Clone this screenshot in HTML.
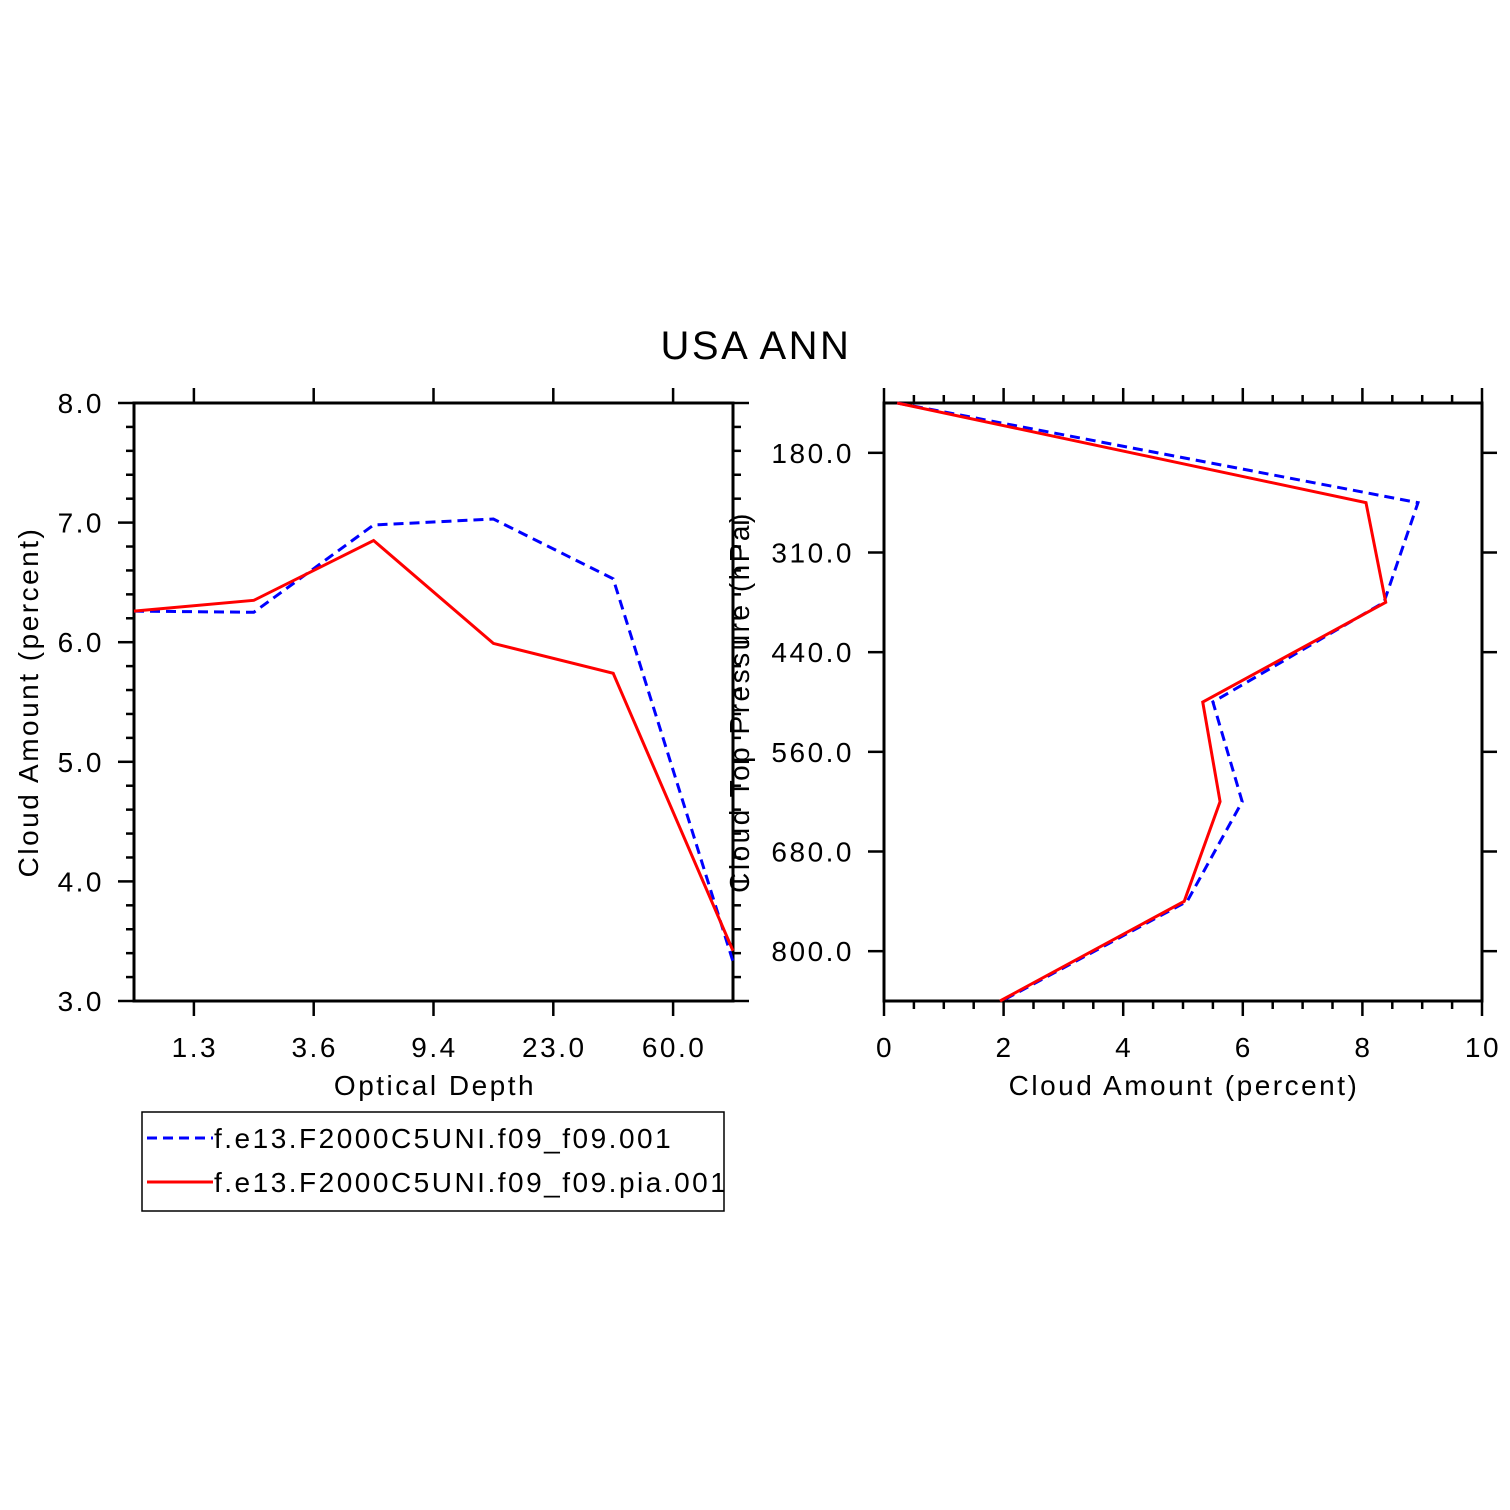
<!DOCTYPE html>
<html><head><meta charset="utf-8"><style>
html,body{margin:0;padding:0;background:#fff;}
svg{display:block;font-family:"Liberation Sans",sans-serif;}
svg text{letter-spacing:2.5px;}
</style></head><body>
<svg id="c" width="1510" height="1510" viewBox="0 0 1510 1510">
<text x="756" y="359" font-size="40" text-anchor="middle">USA ANN</text>
<g id="L"></g>
<g id="R"></g>
<g>
<rect x="142" y="1112" width="582" height="99" fill="none" stroke="#000" stroke-width="1.5"/>
<line x1="147" y1="1138" x2="213" y2="1138" stroke="#0000ff" stroke-width="3" stroke-dasharray="10,6"/>
<text x="214" y="1148" font-size="28">f.e13.F2000C5UNI.f09_f09.001</text>
<line x1="147" y1="1182" x2="213" y2="1182" stroke="#ff0000" stroke-width="3"/>
<text x="214" y="1192" font-size="28">f.e13.F2000C5UNI.f09_f09.pia.001</text>
</g>
</svg>
<script>
const odLabels=["1.3","3.6","9.4","23.0","60.0"];
const odBlue=[6.26,6.25,6.98,7.03,6.53,3.33];
const odRed=[6.26,6.35,6.85,5.99,5.74,3.42];
const yTicksL=["3.0","4.0","5.0","6.0","7.0","8.0"];
const presLabels=["180.0","310.0","440.0","560.0","680.0","800.0"];
const prBlue=[0.22,8.93,8.36,5.5,5.99,5.07,1.97];
const prRed=[0.22,8.06,8.39,5.33,5.62,5.02,1.94];
const xTicksR=["0","2","4","6","8","10"];
const NS="http://www.w3.org/2000/svg";
function mk(p,t,a){const e=document.createElementNS(NS,t);for(const k in a)e.setAttribute(k,a[k]);p.appendChild(e);return e;}
function ln(p,x1,y1,x2,y2,w){return mk(p,"line",{x1,y1,x2,y2,stroke:"#000","stroke-width":w||2.5});}
// Left panel
const L=document.getElementById("L");
const lx0=134,lx1=733,ly0=1001,ly1=403;
const lxs=i=>lx0+(lx1-lx0)*i/(odBlue.length-1);
const lys=v=>ly0-(v-3)*(ly0-ly1)/5;
let f=mk(L,"rect",{x:lx0,y:ly1,width:lx1-lx0,height:ly0-ly1,fill:"none",stroke:"#000","stroke-width":3});


for(let v=3;v<=8.001;v+=0.2){const maj=Math.abs(v-Math.round(v))<0.01;const y=lys(v);
 ln(L,lx0,y,lx0-(maj?16:8),y);ln(L,lx1,y,lx1+(maj?16:8),y);}
yTicksL.forEach((t,i)=>{const e=mk(L,"text",{x:104,y:lys(3+i)+10,"font-size":28,"text-anchor":"end"});e.textContent=t;
 
 });
odLabels.forEach((t,i)=>{const x=(lxs(i)+lxs(i+1))/2;ln(L,x,ly0,x,ly0+15);ln(L,x,ly1,x,ly1-15);
 const e=mk(L,"text",{x:x+1,y:1057,"font-size":28,"text-anchor":"middle"});e.textContent=t;
 
 });
let t=mk(L,"text",{x:435,y:1095,"font-size":28,"text-anchor":"middle"});t.textContent="Optical Depth";


t=mk(L,"text",{x:38,y:702,"font-size":28,"text-anchor":"middle",transform:"rotate(-90 38 702)"});t.textContent="Cloud Amount (percent)";


let p=mk(L,"polyline",{points:odBlue.map((v,i)=>lxs(i)+","+lys(v)).join(" "),fill:"none",stroke:"#0000ff","stroke-width":3,"stroke-dasharray":"10,6"});


p=mk(L,"polyline",{points:odRed.map((v,i)=>lxs(i)+","+lys(v)).join(" "),fill:"none",stroke:"#ff0000","stroke-width":3});


// Right panel
const R=document.getElementById("R");
const rx0=884,rx1=1482,ry0=403,ry1=1001;
const rxs=v=>rx0+v*(rx1-rx0)/10;
const rys=i=>ry0+(ry1-ry0)*i/(prBlue.length-1);
f=mk(R,"rect",{x:rx0,y:ry0,width:rx1-rx0,height:ry1-ry0,fill:"none",stroke:"#000","stroke-width":3});


for(let v=0;v<=10.001;v+=0.5){const maj=Math.abs(v/2-Math.round(v/2))<0.01;const x=rxs(v);
 ln(R,x,ry1,x,ry1+(maj?15:8));ln(R,x,ry0,x,ry0-(maj?15:8));}
xTicksR.forEach((s,i)=>{const e=mk(R,"text",{x:rxs(i*2)+1,y:1057,"font-size":28,"text-anchor":"middle"});e.textContent=s;
 
 });
presLabels.forEach((s,i)=>{const y=(rys(i)+rys(i+1))/2;ln(R,rx0,y,rx0-16,y);ln(R,rx1,y,rx1+15,y);
 const e=mk(R,"text",{x:854,y:y+10,"font-size":28,"text-anchor":"end"});e.textContent=s;
 
 });
t=mk(R,"text",{x:1184,y:1095,"font-size":28,"text-anchor":"middle"});t.textContent="Cloud Amount (percent)";


t=mk(R,"text",{x:749,y:702,"font-size":28,"text-anchor":"middle",transform:"rotate(-90 749 702)"});t.textContent="Cloud Top Pressure (hPa)";


p=mk(R,"polyline",{points:prBlue.map((v,i)=>rxs(v)+","+rys(i)).join(" "),fill:"none",stroke:"#0000ff","stroke-width":3,"stroke-dasharray":"10,6"});


p=mk(R,"polyline",{points:prRed.map((v,i)=>rxs(v)+","+rys(i)).join(" "),fill:"none",stroke:"#ff0000","stroke-width":3});


</script>
</body></html>
